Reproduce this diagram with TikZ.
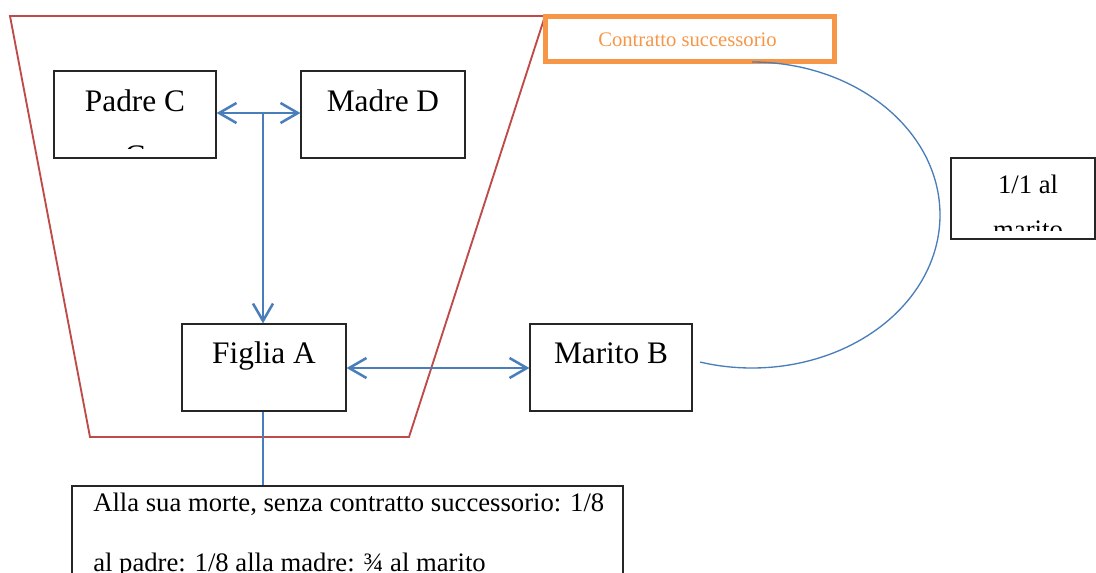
\documentclass[tikz,border=0pt]{standalone}
\usepackage{fontspec}
\setmainfont{Liberation Serif}
\usetikzlibrary{arrows.meta}
\definecolor{lineblue}{HTML}{4A7EBB}
\definecolor{framered}{HTML}{BE4B48}
\definecolor{accentorange}{HTML}{F79646}
\begin{document}
\begin{tikzpicture}[x=0.75pt,y=-0.75pt,
  box/.style={draw=black!85,line width=0.9pt,rectangle,inner sep=0pt},
  bigtxt/.style={anchor=base,inner sep=0pt,font=\fontsize{23.5}{28}\selectfont},
  midtxt/.style={anchor=base,inner sep=0pt,font=\fontsize{20}{24}\selectfont},
  link/.style={draw=lineblue,line width=1.9pt,
    arrows={Straight Barb[length=13pt,width=15pt]-Straight Barb[length=13pt,width=15pt]}},
  thin/.style={draw=lineblue,line width=1pt}]
\clip (0,0) rectangle (1096,572);
\useasboundingbox (0,0) rectangle (1096,572);

% family group outline
\draw[framered,line width=1.4pt,line join=miter]
  (10,16) -- (90,437) -- (409,437) -- (545,16) -- cycle;

% boxes
\node[box,minimum width=121.5pt,minimum height=65.25pt] (padre) at (135,114.5) {};
\node[box,minimum width=123pt,minimum height=65.25pt] (madre) at (383,114.5) {};
\node[box,minimum width=123pt,minimum height=65.25pt] (figlia) at (264,367.5) {};
\node[box,minimum width=121.5pt,minimum height=65.25pt] (marito) at (611,367.5) {};
\node[box,minimum width=108pt,minimum height=60.75pt] (quota) at (1023,198.5) {};
\node[box,minimum width=413.25pt,minimum height=100.5pt] (nota) at (347.5,553) {};
\node[draw=accentorange,line width=3.75pt,rectangle,inner sep=0pt,
  minimum width=216.75pt,minimum height=34pt] (contratto) at (689.5,39) {};

% box texts
\node[bigtxt] (tpadre) at (135,111.7) {Padre C};
\begin{scope}
  \clip (55,72) rectangle (215,148);
  \node[bigtxt] (tpadre2) at (135,166.7) {C};
\end{scope}
\node[bigtxt] (tmadre) at (383,111.7) {Madre D};
\node[bigtxt] (tfiglia) at (264,363.3) {Figlia A};
\node[bigtxt] (tmarito) at (611,363.3) {Marito B};
\node[midtxt] (tquota) at (1028,193) {1/1 al};
\begin{scope}
  \clip (952,159) rectangle (1094,230);
  \node[midtxt] (tquota2) at (1028,238) {marito};
\end{scope}
\node[anchor=base west,inner sep=0pt,font=\fontsize{15.5}{18}\selectfont,
  text=accentorange] (tcontratto) at (598,46.7) {Contratto successorio};
\node[anchor=base west,inner sep=0pt,font=\fontsize{20}{24}\selectfont] (tnota1)
  at (93,511.7) {Alla sua morte, senza contratto successorio: 1/8};
\node[anchor=base west,inner sep=0pt,font=\fontsize{20}{24}\selectfont] (tnota2)
  at (93,571.5) {al padre: 1/8 alla madre: ¾ al marito};

% connectors
\coordinate (genitori) at (263,113);
\draw[link] (padre.east |- genitori) -- (madre.west |- genitori);
\draw[link,arrows={-Straight Barb[length=13pt,width=15pt]}]
  (genitori) -- (genitori |- figlia.north);
\draw[link] (figlia.east |- 0,368) -- (marito.west |- 0,368);
\draw[thin] (figlia.south -| genitori) -- (nota.north -| genitori);
\coordinate (archi) at (752,62);
\coordinate (arcoFine) at (700,362);
\draw[thin] (archi) arc[start angle=-90,end angle=106,x radius=188,y radius=153];
\end{tikzpicture}
\end{document}
